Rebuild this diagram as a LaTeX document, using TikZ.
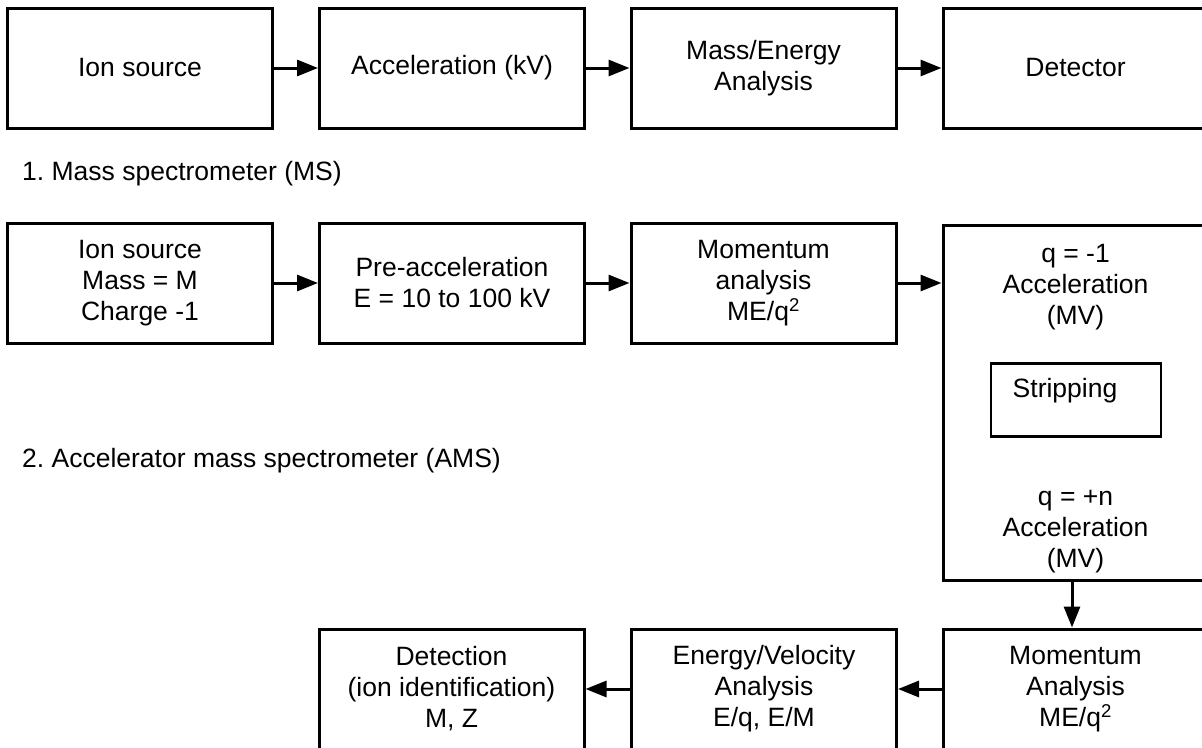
\documentclass[tikz,border=0pt]{standalone}
\usepackage{fontspec}
\setmainfont{Liberation Sans}
\frenchspacing
\usetikzlibrary{arrows.meta,positioning}
\tikzset{
	blk/.style={draw, line width=3pt, minimum width=265pt, minimum height=120pt, align=center, inner sep=0pt},
	flow/.style={line width=3pt, -{Triangle[length=21pt,width=16pt]}},
	caption/.style={anchor=west, inner sep=0pt},
}
\begin{document}
\begin{tikzpicture}[x=1pt,y=-1pt,font=\fontsize{26.5}{31}\selectfont]
	\clip (0,0) rectangle (1202,747);
	\fill[white] (0,0) rectangle (1202,747);
	% mass spectrometer
	\node[blk] (ion) at (140,68) {Ion source};
	\node[blk] (acc) at (452,68) {Acceleration (kV)};
	\node[blk] (ana) at (763.5,68) {Mass/Energy\\Analysis};
	\node[blk] (det) at (1075.5,68) {Detector};
	\draw[flow] (ion) -- (acc);
	\draw[flow] (acc) -- (ana);
	\draw[flow] (ana) -- (det);
	\node[caption] (ms) at (22,174) {1. Mass spectrometer (MS)};

	% accelerator mass spectrometer
	\node[blk] (src) at (140,283) {Ion source\\Mass = M\\Charge -1};
	\node[blk] (pre) at (452,283) {Pre-acceleration\\E = 10 to 100 kV};
	\node[blk] (mom) at (763.5,283) {Momentum\\analysis\\ME/q\textsuperscript{2}};
	\node[blk, minimum height=355pt] (tandem) at (1075.5,402.5) {};
	\node[align=center, inner sep=0pt] (low) at (1075.5,287) {q = -1\\Acceleration\\(MV)};
	\node[align=center, inner sep=0pt] (high) at (1075.5,532) {q = +n\\Acceleration\\(MV)};
	\node[draw, line width=2.2pt, minimum width=170pt, minimum height=73pt,
		label={[xshift=-11pt,yshift=9pt]center:Stripping}] (strip) at (1076,400) {};
	\draw[flow] (src) -- (pre);
	\draw[flow] (pre) -- (mom);
	\draw[flow] (mom) -- (mom -| tandem.west);
	\node[caption] (ams) at (22,461) {2. Accelerator mass spectrometer (AMS)};

	% after the accelerator
	\node[blk] (mom2) at (1075.5,689) {Momentum\\Analysis\\ME/q\textsuperscript{2}};
	\node[blk] (ev) at (764,689) {Energy/Velocity\\Analysis\\E/q, E/M};
	\node[blk] (ident) at (451.5,689) {Detection\\(ion identification)\\M, Z};
	\draw[flow] (tandem.south -| 1072,0) -- (mom2.north -| 1072,0);
	\draw[flow] (mom2) -- (ev);
	\draw[flow] (ev) -- (ident);
\end{tikzpicture}
\end{document}
